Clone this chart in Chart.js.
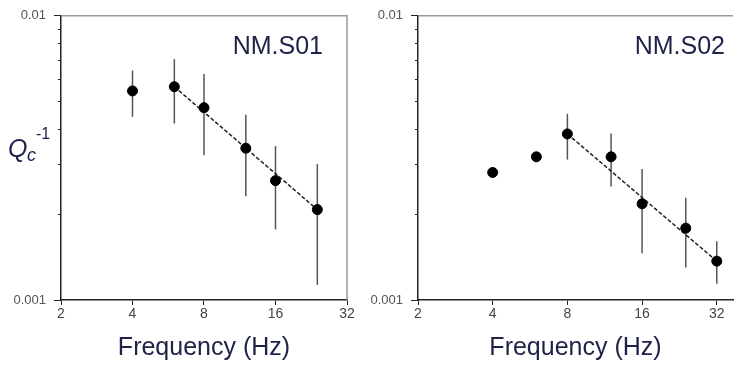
<!DOCTYPE html>
<html>
<head>
<meta charset="utf-8">
<script src="https://cdn.jsdelivr.net/npm/chart.js@4.4.1/dist/chart.umd.min.js"></script>
<style>
  html, body { margin: 0; padding: 0; background: #fff; }
  #wrap { position: relative; width: 739px; height: 371px; overflow: hidden; }
  .panel { position: absolute; top: 0; }
</style>
</head>
<body>
<div id="wrap">
  <div class="panel" style="left:0"><canvas id="c1" width="370" height="371"></canvas></div>
  <div class="panel" style="left:370px"><canvas id="c2" width="369" height="371"></canvas></div>
</div>
<script>
// tick values
var xTicks = [2, 4, 8, 16, 32];
var yMajor = [0.001, 0.01];
var yMinor = [0.002, 0.003, 0.004, 0.005, 0.006, 0.007, 0.008, 0.009];

// NM.S01
var s01Freq = [4, 6, 8, 12, 16, 24];
var s01Q    = [0.00544, 0.00563, 0.00475, 0.00342, 0.00263, 0.00208];
var s01Lo   = [0.00441, 0.00418, 0.00323, 0.00232, 0.00177, 0.00113];
var s01Hi   = [0.00642, 0.00704, 0.00624, 0.00449, 0.00348, 0.00301];
var s01FitFreq = [6, 24];
var s01FitQ    = [0.00563, 0.00208];

// NM.S02
var s02Freq = [4, 6, 8, 12, 16, 24, 32];
var s02Q    = [0.00281, 0.00319, 0.00384, 0.00319, 0.00218, 0.00179, 0.00137];
var s02Lo   = [null, null, 0.00312, 0.00251, 0.00146, 0.00130, 0.00114];
var s02Hi   = [null, null, 0.00452, 0.00385, 0.00289, 0.00229, 0.00161];
var s02FitFreq = [8, 32];
var s02FitQ    = [0.00384, 0.00137];

var navy = '#1e2148';
var sans = "'Liberation Sans', Arial, sans-serif";

function toXY(xs, ys) {
  return xs.map(function(x, i) { return { x: x, y: ys[i] }; });
}

function makePanel(id, p) {
  var ctx = document.getElementById(id).getContext('2d');

  var extras = {
    id: 'extras',
    beforeDatasetsDraw: function(chart) {
      var c = chart.ctx, xs = chart.scales.x, ys = chart.scales.y;
      c.save();
      c.strokeStyle = '#555';
      c.lineWidth = 1.5;
      p.freq.forEach(function(f, i) {
        if (p.lo[i] == null) return;
        var x = xs.getPixelForValue(f);
        c.beginPath();
        c.moveTo(x, ys.getPixelForValue(p.lo[i]));
        c.lineTo(x, ys.getPixelForValue(p.hi[i]));
        c.stroke();
      });
      c.restore();
    },
    afterDraw: function(chart) {
      var c = chart.ctx, a = chart.chartArea, ys = chart.scales.y;
      c.save();
      // top / right frame
      c.strokeStyle = '#999';
      c.lineWidth = 1.5;
      c.beginPath();
      c.moveTo(a.left, a.top);
      c.lineTo(a.right, a.top);
      if (p.rightBorder) c.lineTo(a.right, a.bottom);
      c.stroke();
      // minor ticks on y axis
      c.strokeStyle = '#222';
      c.lineWidth = 1;
      yMinor.forEach(function(v) {
        var y = Math.round(ys.getPixelForValue(v)) + 0.5;
        c.beginPath();
        c.moveTo(a.left - 3, y);
        c.lineTo(a.left, y);
        c.stroke();
      });
      // station name
      c.fillStyle = navy;
      c.font = '25px ' + sans;
      c.textAlign = 'right';
      c.textBaseline = 'alphabetic';
      c.fillText(p.name, p.nameX, 54);
      // Qc^-1 label
      if (p.qLabel) {
        c.textAlign = 'left';
        c.font = 'italic 25px ' + sans;
        c.fillText('Q', 8, 157);
        c.font = 'italic 18px ' + sans;
        c.fillText('c', 27, 161);
        c.font = '16px ' + sans;
        c.fillText('-1', 36, 139);
      }
      c.restore();
    }
  };

  return new Chart(ctx, {
    type: 'scatter',
    data: {
      datasets: [{
        data: toXY(p.freq, p.q),
        backgroundColor: '#000',
        borderColor: '#000',
        pointRadius: 5,
        pointHoverRadius: 5
      }, {
        data: toXY(p.fitFreq, p.fitQ),
        showLine: true,
        borderColor: '#222',
        borderWidth: 1.5,
        borderDash: [4, 2],
        pointRadius: 0
      }]
    },
    options: {
      responsive: false,
      animation: false,
      events: [],
      layout: { padding: { top: 14, right: p.padRight, left: 0, bottom: 0 } },
      plugins: { legend: { display: false }, tooltip: { enabled: false } },
      scales: {
        x: {
          type: 'logarithmic',
          min: 2,
          max: p.xMax,
          afterBuildTicks: function(s) { s.ticks = xTicks.map(function(v) { return { value: v }; }); },
          afterFit: function(s) { s.height = 71; },
          grid: { drawOnChartArea: false, drawTicks: true, tickLength: 5, color: '#222' },
          border: { display: true, color: '#222', width: 1.5 },
          ticks: {
            color: '#444',
            padding: 1,
            font: { family: sans, size: 14 },
            maxRotation: 0,
            autoSkip: false,
            callback: function(v) { return String(v); }
          },
          title: {
            display: true,
            text: 'Frequency (Hz)',
            color: navy,
            font: { family: sans, size: 25, lineHeight: 1.2 },
            padding: { top: 0, bottom: 8 }
          }
        },
        y: {
          type: 'logarithmic',
          min: 0.001,
          max: 0.01,
          afterBuildTicks: function(s) { s.ticks = yMajor.map(function(v) { return { value: v }; }); },
          afterFit: function(s) { s.width = p.yWidth; },
          grid: { drawOnChartArea: false, drawTicks: true, tickLength: 7, color: '#222' },
          border: { display: true, color: '#222', width: 1.5 },
          ticks: {
            color: '#555',
            padding: 8,
            font: { family: sans, size: 13 },
            callback: function(v) { return String(v); }
          }
        }
      }
    },
    plugins: [extras]
  });
}

makePanel('c1', {
  freq: s01Freq, q: s01Q, lo: s01Lo, hi: s01Hi,
  fitFreq: s01FitFreq, fitQ: s01FitQ,
  name: 'NM.S01', nameX: 323, qLabel: true, rightBorder: true,
  xMax: 32, padRight: 23, yWidth: 61
});
makePanel('c2', {
  freq: s02Freq, q: s02Q, lo: s02Lo, hi: s02Hi,
  fitFreq: s02FitFreq, fitQ: s02FitQ,
  name: 'NM.S02', nameX: 355, qLabel: false, rightBorder: false,
  xMax: 37.2, padRight: 0, yWidth: 48
});
</script>
</body>
</html>
